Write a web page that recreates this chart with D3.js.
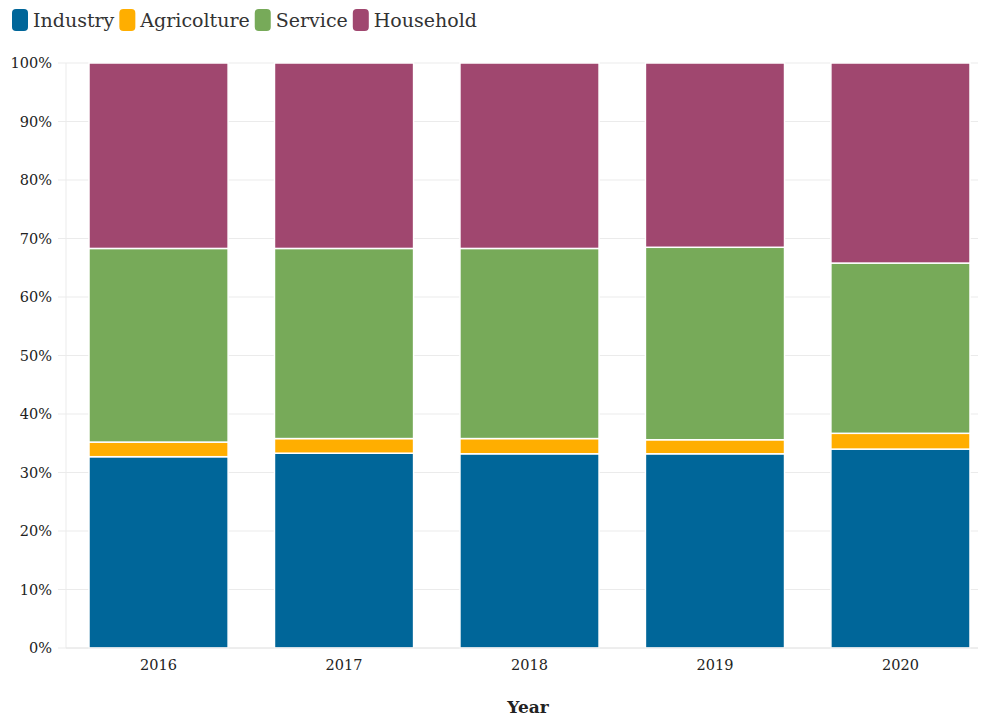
<!DOCTYPE html>
<html><head><meta charset="utf-8">
<script src="https://cdn.jsdelivr.net/npm/d3@7"></script>
<style>
body{margin:0;background:#fff;}
svg{display:block;font-family:"DejaVu Serif",serif;}
</style></head>
<body><svg id="chart" width="981" height="717"></svg>
<script>
const years = ["2016","2017","2018","2019","2020"];
const seriesNames = ["Industry","Agricolture","Service","Household"];
const industry    = [32.7, 33.3, 33.2, 33.2, 34.0];
const agricolture = [2.5, 2.5, 2.6, 2.4, 2.7];
const service     = [33.1, 32.5, 32.5, 32.9, 29.1];
const household   = [31.7, 31.7, 31.7, 31.5, 34.2];
const yTicks = [0,10,20,30,40,50,60,70,80,90,100];
const colors = ["#006699","#ffae00","#77aa59","#a0476f"];

(function(){
const svg = d3.select("#chart");
const mLeft = 66, mRight = 978, mTop = 63, mBottom = 648;

const rows = years.map((yr,i)=>({year:yr, Industry:industry[i], Agricolture:agricolture[i], Service:service[i], Household:household[i]}));
const stack = d3.stack().keys(seriesNames).offset(d3.stackOffsetExpand);
const series = stack(rows);

const x = d3.scaleBand().domain(years).range([mLeft, 993]).paddingInner(0.25).paddingOuter(0.124);
const y = d3.scaleLinear().domain([0,1]).range([mBottom, mTop]);

svg.append("g").selectAll("line").data(yTicks).join("line")
  .attr("x1", 58).attr("x2", mRight)
  .attr("y1", d=>y(d/100)).attr("y2", d=>y(d/100))
  .attr("stroke", "#ebebeb").attr("stroke-width", 1);
svg.append("line").attr("x1", mLeft).attr("x2", mLeft).attr("y1", mTop).attr("y2", mBottom)
  .attr("stroke", "#ebebeb");

svg.append("g").selectAll("text").data(yTicks).join("text")
  .attr("x", 52).attr("y", d=>y(d/100)).attr("dy","0.35em")
  .attr("text-anchor","end").attr("font-size",14.5).attr("fill","#222")
  .text(d=>d+"%");

svg.append("g").selectAll("g").data(series).join("g")
  .attr("fill", (d,i)=>colors[i])
  .selectAll("rect").data(d=>d).join("rect")
  .attr("x", d=>x(d.data.year))
  .attr("width", x.bandwidth())
  .attr("y", d=>y(d[1]))
  .attr("height", d=>y(d[0])-y(d[1]))
  .attr("stroke","#fff").attr("stroke-width",1.5);

svg.append("g").selectAll("text").data(years).join("text")
  .attr("x", d=>x(d)+x.bandwidth()/2).attr("y", 670)
  .attr("text-anchor","middle").attr("font-size",14.5).attr("fill","#222")
  .text(d=>d);
svg.append("line").attr("x1", mLeft).attr("x2", mRight).attr("y1", mBottom).attr("y2", mBottom).attr("stroke","#e6e6e6");

svg.append("text").attr("x", 528).attr("y", 713).attr("text-anchor","middle")
  .attr("font-size",17).attr("font-weight","bold").attr("fill","#222").text("Year");

let lx = 12;
const lg = svg.append("g");
seriesNames.forEach((n,i)=>{
  lg.append("rect").attr("x", lx).attr("y", 9).attr("width", 16).attr("height", 22)
    .attr("rx", 4).attr("fill", colors[i]);
  const t = lg.append("text").attr("x", lx+21).attr("y", 27).attr("font-size",19)
    .attr("fill","#333").text(n);
  lx += 21 + t.node().getComputedTextLength() + 5;
});
})();
</script></body></html>
